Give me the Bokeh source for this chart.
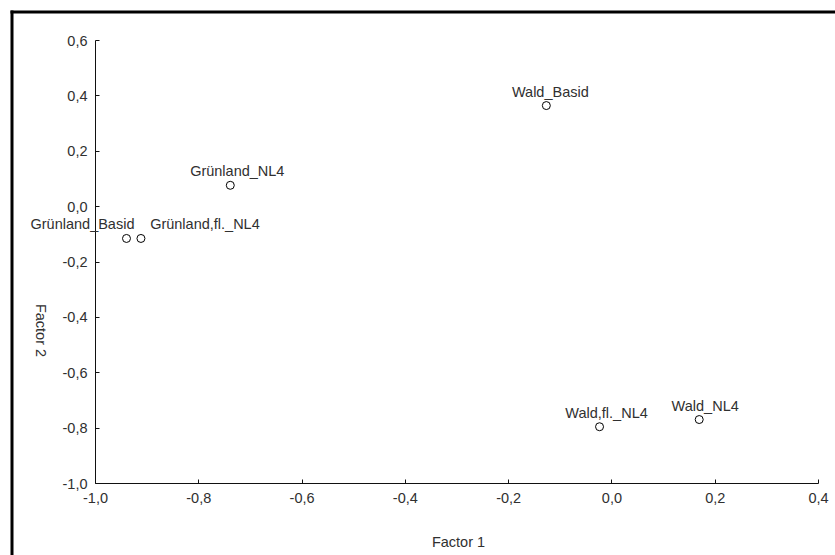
import math
from bokeh.plotting import figure
from bokeh.models import ColumnDataSource, FixedTicker, Label, LabelSet
from bokeh.core.properties import value
from bokeh.embed import file_html
from bokeh.resources import INLINE

# ---- data ----
names = ["Grünland_Basid", "Grünland,fl._NL4", "Grünland_NL4", "Wald_Basid", "Wald,fl._NL4", "Wald_NL4"]
factor1 = [-0.940, -0.912, -0.739, -0.127, -0.024, 0.169]
factor2 = [-0.115, -0.115, 0.077, 0.365, -0.795, -0.769]
x_ticks = [-1.0, -0.8, -0.6, -0.4, -0.2, 0.0, 0.2, 0.4]
x_tick_labels = ["-1,0", "-0,8", "-0,6", "-0,4", "-0,2", "0,0", "0,2", "0,4"]
y_ticks = [-1.0, -0.8, -0.6, -0.4, -0.2, 0.0, 0.2, 0.4, 0.6]
y_tick_labels = ["-1,0", "-0,8", "-0,6", "-0,4", "-0,2", "0,0", "0,2", "0,4", "0,6"]
x_title = "Factor 1"
y_title = "Factor 2"

# ---- layout (pixels) ----
W, H = 835, 555
AX_L, AX_R, AX_T, AX_B = 95, 818, 40, 483   # axis box in canvas pixels
BORDER0, BORDER1 = 10, 13                    # outer border band (left / top)
label_dx = [-44, 64, 7, 4, 7, 6]

x0, x1 = x_ticks[0], x_ticks[-1]
y0, y1 = y_ticks[0], y_ticks[-1]
sx = (x1 - x0) / (AX_R - AX_L)
sy = (y1 - y0) / (AX_B - AX_T)
xr = (x0 - AX_L * sx, x1 + (W - AX_R) * sx)
yr = (y0 - (H - AX_B) * sy, y1 + AX_T * sy)

FONT = "Liberation Sans"
TXT = "#303030"
FS = "14.5px"

p = figure(width=W, height=H, output_backend="svg", toolbar_location=None,
           x_range=xr, y_range=yr,
           min_border_left=0, min_border_top=0, min_border_right=0, min_border_bottom=0)
p.outline_line_color = None
p.xgrid.visible = False
p.ygrid.visible = False
p.background_fill_color = "white"
p.border_fill_color = "white"

p.xaxis[0].fixed_location = y0
p.xaxis[0].bounds = (x0, x1)
p.yaxis[0].fixed_location = x0
p.yaxis[0].bounds = (y0, y1)

for ax, ticks, labels in ((p.xaxis[0], x_ticks, x_tick_labels), (p.yaxis[0], y_ticks, y_tick_labels)):
    ax.ticker = FixedTicker(ticks=ticks)
    ax.major_label_overrides = {t: l for t, l in zip(ticks, labels)}
    ax.minor_tick_line_color = None
    ax.major_tick_in = 4
    ax.major_tick_out = 0
    ax.axis_line_color = "#111111"
    ax.major_tick_line_color = "#111111"
    ax.major_label_text_font = FONT
    ax.major_label_text_font_size = FS
    ax.major_label_text_color = TXT
p.xaxis.major_label_standoff = 9
p.yaxis.major_label_standoff = 8

# outer border (left and top edges of the picture frame)
bl = xr[0] + BORDER0 * sx
br = xr[0] + BORDER1 * sx
bt = yr[1] - BORDER0 * sy
bb = yr[1] - BORDER1 * sy
p.quad(left=[bl, bl], right=[br, xr[1] + 1.0], top=[bt, bt], bottom=[yr[0] - 1.0, bb],
       fill_color="black", line_color=None)

src = ColumnDataSource(dict(x=factor1, y=factor2, name=names, dx=label_dx))
p.scatter("x", "y", source=src, marker="circle", size=8, fill_color="white",
          line_color="black", line_width=1)
p.add_layout(LabelSet(x="x", y="y", text="name", source=src, x_offset="dx", y_offset=14,
                      text_align="center", text_baseline="middle", text_font=value(FONT),
                      text_font_size=FS, text_color=TXT))

p.add_layout(Label(x=458, y=H - 541, x_units="screen", y_units="screen", text=x_title,
                   text_align="center", text_baseline="middle", text_font=FONT,
                   text_font_size=FS, text_color=TXT))
p.add_layout(Label(x=40, y=H - 330, x_units="screen", y_units="screen", text=y_title,
                   angle=-math.pi / 2, text_align="center", text_baseline="middle",
                   text_font=FONT, text_font_size=FS, text_color=TXT))

open("out.html", "w").write(file_html(p, INLINE))
